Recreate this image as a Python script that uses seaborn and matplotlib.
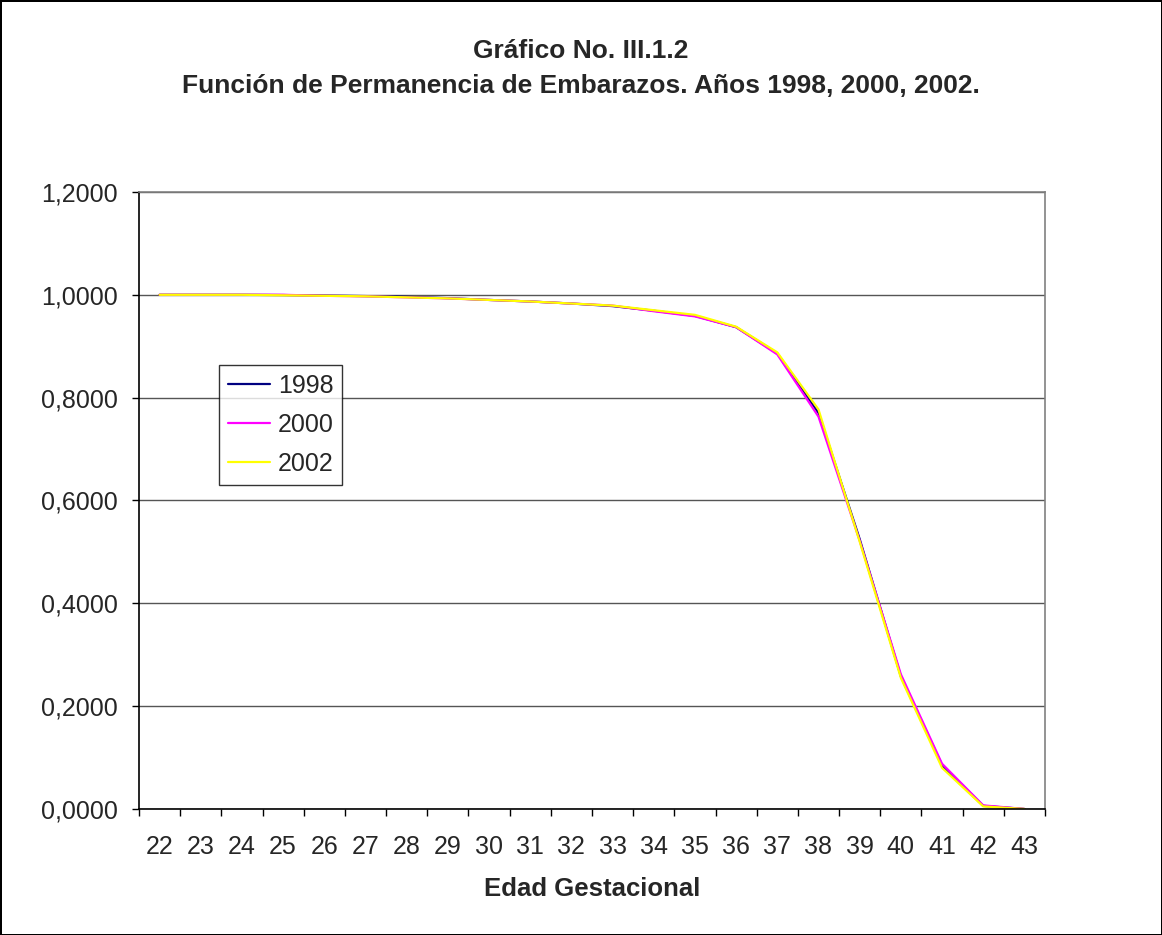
import matplotlib
matplotlib.use("Agg")
import matplotlib.pyplot as plt
import matplotlib.ticker as mticker
import seaborn as sns
import pandas as pd

sns.set_theme(style="white")
plt.rcParams['font.family'] = ['Liberation Sans', 'DejaVu Sans']

# gestational age (weeks) and permanence function per year
semanas = list(range(22, 44))
v1998 = [1.0000, 1.0000, 1.0000, 0.9995, 0.9985, 0.9975, 0.9960, 0.9935, 0.9900, 0.9870,
         0.9830, 0.9780, 0.9690, 0.9590, 0.9370, 0.8860, 0.7700, 0.5250, 0.2580, 0.0850,
         0.0060, 0.0000]
v2000 = [1.0000, 1.0000, 1.0000, 1.0000, 0.9980, 0.9970, 0.9950, 0.9930, 0.9900, 0.9870,
         0.9830, 0.9790, 0.9680, 0.9580, 0.9370, 0.8840, 0.7630, 0.5220, 0.2620, 0.0880,
         0.0070, 0.0000]
v2002 = [1.0000, 1.0000, 1.0000, 0.9990, 0.9980, 0.9970, 0.9950, 0.9930, 0.9900, 0.9870,
         0.9830, 0.9790, 0.9700, 0.9610, 0.9380, 0.8880, 0.7770, 0.5200, 0.2550, 0.0800,
         0.0050, 0.0000]
anios = ['1998', '2000', '2002']
colores = ['#000080', '#FF00FF', '#FFFF00']

df = pd.DataFrame({'semana': semanas * 3,
                   'valor': v1998 + v2000 + v2002,
                   'anio': [a for a in anios for _ in semanas]})

fig = plt.figure(figsize=(11.62, 9.35), dpi=100, edgecolor='black', linewidth=2)
ax = fig.add_axes([0.1196, 0.1348, 0.8993 - 0.1196, 0.7947 - 0.1348])

sns.lineplot(data=df, x='semana', y='valor', hue='anio', palette=colores,
             linewidth=1.6, ax=ax, legend=True)

ax.set_xlim(21.5, 43.5)
ax.set_ylim(0, 1.2)
ax.set_yticks([0, 0.2, 0.4, 0.6, 0.8, 1.0, 1.2])
ax.yaxis.set_major_formatter(mticker.FuncFormatter(lambda v, p: f"{v:.4f}".replace('.', ',')))
ax.set_xticks([s - 0.5 for s in semanas] + [43.5])
ax.set_xticklabels([])
ax.set_xticks(semanas, minor=True)
ax.set_xticklabels([str(s) for s in semanas], minor=True)
ax.tick_params(axis='x', which='major', length=5, width=1, color='black', direction='out', bottom=True)
ax.tick_params(axis='x', which='minor', length=0, labelsize=18, pad=19)
ax.tick_params(axis='y', length=5, width=1, color='black', direction='out', left=True,
               labelsize=18, pad=10)
ax.grid(axis='y', color='#555555', linewidth=1)
ax.set_axisbelow(True)

for side in ['top', 'right']:
    ax.spines[side].set_color('#808080')
    ax.spines[side].set_linewidth(1.2)
for side in ['left', 'bottom']:
    ax.spines[side].set_color('black')
    ax.spines[side].set_linewidth(1.2)

ax.set_xlabel('Edad Gestacional', fontsize=18.5, fontweight='bold', labelpad=13)
ax.set_ylabel('')

fig.text(0.5, 0.9455, 'Gráfico No. III.1.2', ha='center', va='center',
         fontsize=19, fontweight='bold')
fig.text(0.5, 0.908, 'Función de Permanencia de Embarazos. Años 1998, 2000, 2002.',
         ha='center', va='center', fontsize=19, fontweight='bold')

leg = ax.legend(loc='upper left', bbox_to_anchor=(0.1885, 0.6096),
                bbox_transform=fig.transFigure, frameon=True,
                fancybox=False, edgecolor='black', fontsize=18, handlelength=1.7,
                borderpad=0.35, labelspacing=0.6, handletextpad=0.3, borderaxespad=0)
leg.get_frame().set_linewidth(1)

fig.savefig('out.png', dpi=100)
